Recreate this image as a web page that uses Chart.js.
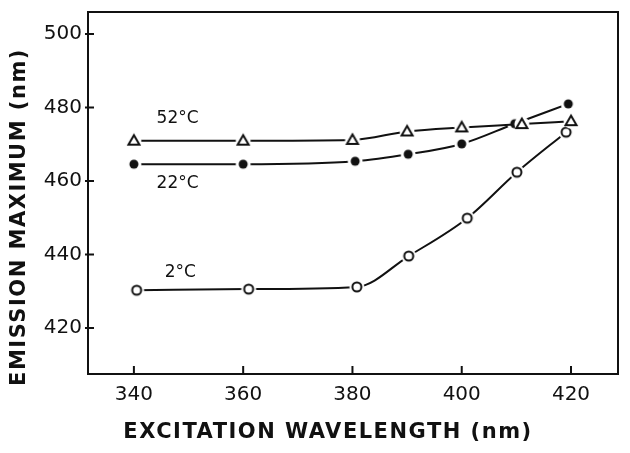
<!DOCTYPE html>
<html>
<head>
<meta charset="utf-8">
<script src="https://cdn.jsdelivr.net/npm/chart.js@4"></script>
<style>
  html, body { margin: 0; padding: 0; background: #fff; }
  #wrap { width: 630px; height: 453px; }
</style>
</head>
<body>
<div id="wrap"><canvas id="emissionChart"></canvas></div>
<script>
// excitation wavelength (nm) vs emission maximum (nm)
const x52 = [340, 360, 380, 390, 400, 411, 420];
const y52 = [471, 471, 471.2, 473.5, 474.6, 475.5, 476.3];
const x22 = [340, 360, 380.5, 390.2, 400, 409.7, 419.5];
const y22 = [464.6, 464.6, 465.4, 467.3, 470.1, 475.6, 481];
const x2 = [340.5, 361, 380.8, 390.3, 401, 410.1, 419.1];
const y2 = [430.3, 430.6, 431.2, 439.6, 449.9, 462.4, 473.3];

const xTicks = [340, 360, 380, 400, 420];
const yTicks = [420, 440, 460, 480, 500];

const seriesLabels = ['52°C', '22°C', '2°C'];
const seriesLabelX = [348, 348, 348.5];
const seriesLabelY = [477, 459.3, 435.2];

const INK = '#111';

// marker with a white halo so the line breaks before each point
function marker(kind) {
    const c = document.createElement('canvas');
    c.width = 20; c.height = 20;
    const g = c.getContext('2d');
    g.fillStyle = '#fff';
    g.beginPath(); g.arc(10, 10, 7.5, 0, Math.PI * 2); g.fill();
    g.strokeStyle = INK; g.fillStyle = INK; g.lineWidth = 2;
    g.beginPath();
    if (kind === 'tri') {
        g.moveTo(10, 4.5); g.lineTo(15.5, 14); g.lineTo(4.5, 14); g.closePath(); g.stroke();
    } else if (kind === 'dot') {
        g.arc(10, 10, 4.5, 0, Math.PI * 2); g.fill();
    } else {
        g.arc(10, 10, 4.5, 0, Math.PI * 2); g.stroke();
    }
    return c;
}

const pts = (xs, ys) => xs.map((x, i) => ({ x: x, y: ys[i] }));

const frame = {
    id: 'frame',
    afterDraw(chart) {
        const { ctx, chartArea: a, scales } = chart;
        ctx.save();
        ctx.strokeStyle = INK;
        ctx.lineWidth = 2;
        ctx.strokeRect(a.left, a.top, a.right - a.left, a.bottom - a.top);
        ctx.beginPath();
        xTicks.forEach(v => {
            const px = scales.x.getPixelForValue(v);
            ctx.moveTo(px, a.bottom); ctx.lineTo(px, a.bottom - 8);
        });
        yTicks.forEach(v => {
            const py = scales.y.getPixelForValue(v);
            ctx.moveTo(a.left - 3, py); ctx.lineTo(a.left + 6, py);
        });
        ctx.stroke();

        // series labels
        ctx.fillStyle = INK;
        ctx.font = '17px "DejaVu Sans"';
        ctx.textAlign = 'center';
        ctx.textBaseline = 'middle';
        seriesLabels.forEach((t, i) => {
            ctx.fillText(t, scales.x.getPixelForValue(seriesLabelX[i]), scales.y.getPixelForValue(seriesLabelY[i]));
        });

        // axis titles
        ctx.font = 'bold 21px "DejaVu Sans"';
        ctx.letterSpacing = '1.5px';
        ctx.fillText('EXCITATION WAVELENGTH (nm)', 328, 433);
        ctx.translate(20, 217);
        ctx.rotate(-Math.PI / 2);
        ctx.fillText('EMISSION MAXIMUM (nm)', 0, 0);
        ctx.restore();
    }
};

const line = (data, kind) => ({
    data: data,
    borderColor: INK,
    borderWidth: 2,
    cubicInterpolationMode: 'monotone',
    pointStyle: marker(kind),
    pointRadius: 10,
    fill: false
});

new Chart(document.getElementById('emissionChart').getContext('2d'), {
    type: 'line',
    data: {
        datasets: [
            line(pts(x52, y52), 'tri'),
            line(pts(x22, y22), 'dot'),
            line(pts(x2, y2), 'ring')
        ]
    },
    options: {
        responsive: true,
        maintainAspectRatio: false,
        animation: false,
        layout: { padding: { top: 4, right: 4, left: 0, bottom: 0 } },
        plugins: { legend: { display: false }, tooltip: { enabled: false } },
        scales: {
            x: {
                type: 'linear',
                min: 331.6,
                max: 428.6,
                afterBuildTicks: s => { s.ticks = xTicks.map(v => ({ value: v })); },
                afterFit: s => { s.height = 79; s.paddingLeft = 0; s.paddingRight = 0; },
                grid: { display: false, drawTicks: false },
                border: { display: false },
                ticks: { color: INK, padding: 9, maxRotation: 0, font: { family: 'DejaVu Sans', size: 20 } }
            },
            y: {
                min: 407.5,
                max: 506,
                afterBuildTicks: s => { s.ticks = yTicks.map(v => ({ value: v })); },
                afterFit: s => { s.width = 88; s.paddingTop = 0; s.paddingBottom = 0; },
                grid: { display: false, drawTicks: false },
                border: { display: false },
                ticks: { color: INK, padding: 6, font: { family: 'DejaVu Sans', size: 20 } }
            }
        }
    },
    plugins: [frame]
});
</script>
</body>
</html>
